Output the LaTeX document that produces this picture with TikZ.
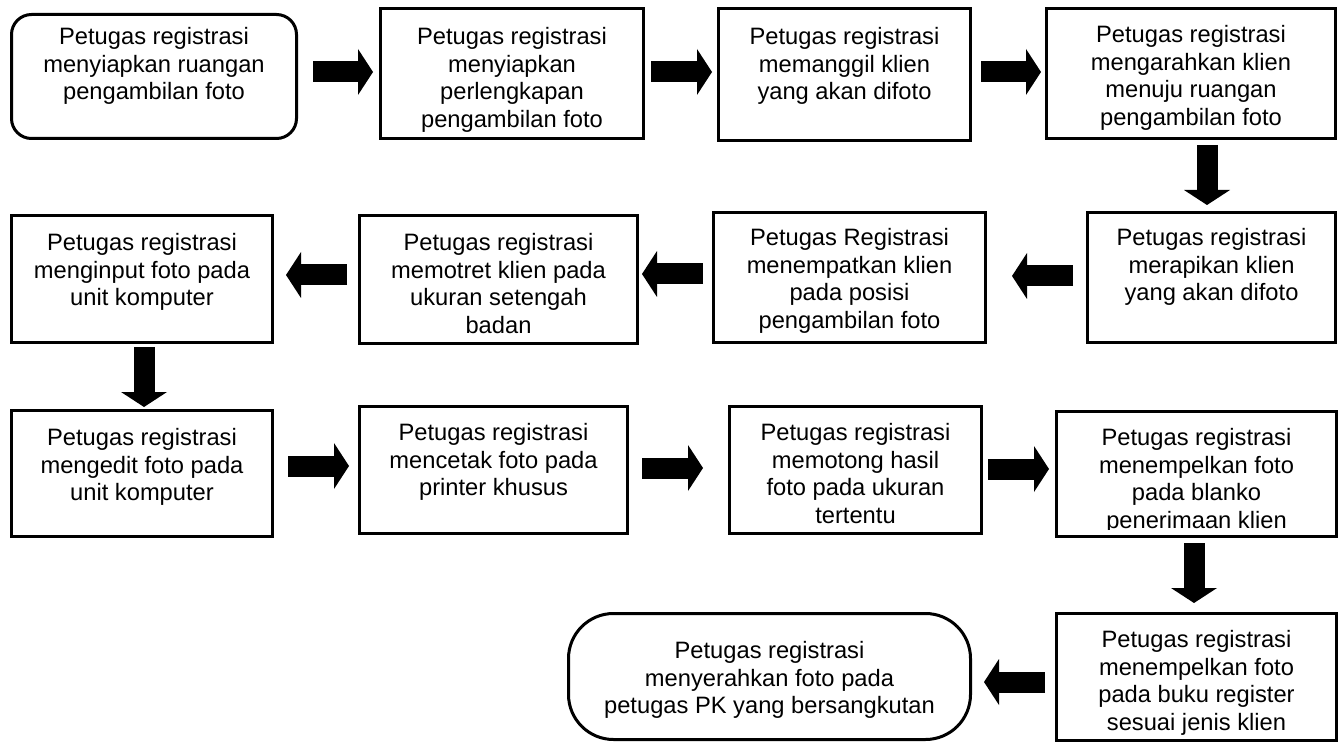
\documentclass[tikz,border=0pt]{standalone}
\usepackage{fontspec}
\setmainfont{Liberation Sans}
\usetikzlibrary{arrows.meta}
\tikzset{
  box/.style={draw, line width=3pt, inner sep=0pt},
  rbox/.style={box, rounded corners=20pt},
  endbox/.style={box, rounded corners=45pt},
  txt/.style={anchor=north, align=center, inner sep=0pt, font=\fontsize{23.7}{27.8}\selectfont},
  barrow/.style={line width=21pt, -{Triangle[length=15pt,width=46pt,line width=0pt]}},
}
\begin{document}
\begin{tikzpicture}[x=1pt,y=-1pt]
\useasboundingbox (0,0) rectangle (1339,743);

% boxes
\node[rbox, minimum width=285pt, minimum height=124pt] (b1) at (154,76.5) {};
\node[box, minimum width=263pt, minimum height=130pt] (b2) at (512,73.5) {};
\node[box, minimum width=252pt, minimum height=132pt] (b3) at (844.5,74.5) {};
\node[box, minimum width=289pt, minimum height=130pt] (b4) at (1191,73.5) {};
\node[box, minimum width=248pt, minimum height=130pt] (b5) at (1211.5,277.5) {};
\node[box, minimum width=272pt, minimum height=130pt] (b6) at (849.5,277.5) {};
\node[box, minimum width=278pt, minimum height=128pt] (b7) at (498.5,279.5) {};
\node[box, minimum width=261pt, minimum height=127pt] (b8) at (142,279) {};
\node[box, minimum width=261pt, minimum height=126pt] (b9) at (142,473.5) {};
\node[box, minimum width=268pt, minimum height=127pt] (b10) at (493.5,470) {};
\node[box, minimum width=252pt, minimum height=127pt] (b11) at (855.5,470) {};
\node[box, minimum width=280pt, minimum height=125pt] (b12) at (1196.5,474) {};
\node[box, minimum width=280pt, minimum height=127pt] (b13) at (1196.5,677) {};
\node[endbox, minimum width=402pt, minimum height=126pt] (b14) at (769.5,676.5) {};

% texts
\node[txt] (t1) at (154,27) {Petugas registrasi\\menyiapkan ruangan\\pengambilan foto};
\node[txt] (t2) at (512,27) {Petugas registrasi\\menyiapkan\\perlengkapan\\pengambilan foto};
\node[txt] (t3) at (844.5,27) {Petugas registrasi\\memanggil klien\\yang akan difoto};
\node[txt] (t4) at (1191,25) {Petugas registrasi\\mengarahkan klien\\menuju ruangan\\pengambilan foto};
\node[txt] (t5) at (1211.5,228) {Petugas registrasi\\merapikan klien\\yang akan difoto};
\node[txt] (t6) at (849.5,228) {Petugas Registrasi\\menempatkan klien\\pada posisi\\pengambilan foto};
\node[txt] (t7) at (498.5,233) {Petugas registrasi\\memotret klien pada\\ukuran setengah\\badan};
\node[txt] (t8) at (142,233) {Petugas registrasi\\menginput foto pada\\unit komputer};
\node[txt] (t9) at (142,428) {Petugas registrasi\\mengedit foto pada\\unit komputer};
\node[txt] (t10) at (493.5,423) {Petugas registrasi\\mencetak foto pada\\printer khusus};
\node[txt] (t11) at (855.5,423) {Petugas registrasi\\memotong hasil\\foto pada ukuran\\tertentu};
\begin{scope}
  \clip (1057,412) rectangle (1336,529);
  \node[txt] (t12) at (1196.5,428) {Petugas registrasi\\menempelkan foto\\pada blanko\\penerimaan klien};
\end{scope}
\node[txt] (t13) at (1196.5,630) {Petugas registrasi\\menempelkan foto\\pada buku register\\sesuai jenis klien};
\node[txt] (t14) at (769.5,641) {Petugas registrasi\\menyerahkan foto pada\\petugas PK yang bersangkutan};

% arrow end points
\coordinate (a1s) at (313,72);   \coordinate (a1e) at (373,72);
\coordinate (a2s) at (651,72);   \coordinate (a2e) at (712,72);
\coordinate (a3s) at (981,72);   \coordinate (a3e) at (1041,72);
\coordinate (a4s) at (1207,145); \coordinate (a4e) at (1207,205);
\coordinate (a5s) at (1073,276); \coordinate (a5e) at (1012,276);
\coordinate (a6s) at (703,274);  \coordinate (a6e) at (642,274);
\coordinate (a7s) at (347,275);  \coordinate (a7e) at (286,275);
\coordinate (a8s) at (144,347);  \coordinate (a8e) at (144,407);
\coordinate (a9s) at (288,466);  \coordinate (a9e) at (349,466);
\coordinate (a10s) at (642,468); \coordinate (a10e) at (703,468);
\coordinate (a11s) at (988,469); \coordinate (a11e) at (1049,469);
\coordinate (a12s) at (1194,543);\coordinate (a12e) at (1194,603);
\coordinate (a13s) at (1045,682);\coordinate (a13e) at (984,682);

\foreach \i in {1,...,13} {\draw[barrow] (a\i s) -- (a\i e);}
\end{tikzpicture}
\end{document}
